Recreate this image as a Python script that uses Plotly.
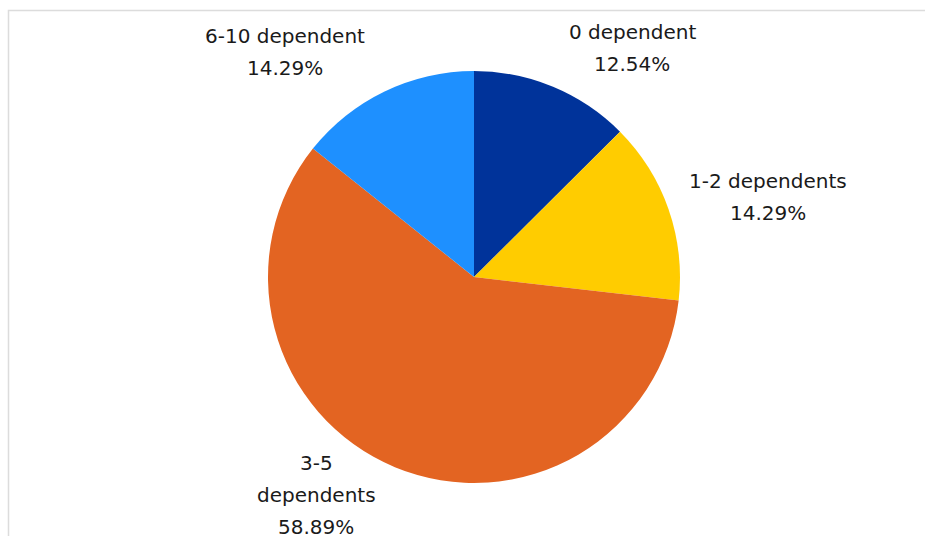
import plotly.graph_objects as go

W, H = 925, 536

# Data
categories = ["0 dependent", "1-2 dependents", "3-5 dependents", "6-10 dependent"]
shares = [12.54, 14.29, 58.89, 14.29]
colors = ["#00339A", "#FFCC00", "#E36422", "#1E90FF"]

# Label lines drawn outside the pie (one entry per category)
label_lines = [["0 dependent"], ["1-2 dependents"], ["3-5", "dependents"], ["6-10 dependent"]]
label_pos = [(632, 32), (768, 181), (316, 463), (285, 36)]
line_gap = 32

# Pie geometry in pixels
cx, cy, r = 474, 277, 206

fig = go.Figure(
    go.Pie(
        labels=categories,
        values=shares,
        marker=dict(colors=colors, line=dict(width=0)),
        sort=False,
        direction="clockwise",
        rotation=0,
        textinfo="none",
        hoverinfo="label+percent",
        showlegend=False,
        domain=dict(x=[(cx - r) / W, (cx + r) / W], y=[1 - (cy + r) / H, 1 - (cy - r) / H]),
    )
)

font = dict(family="DejaVu Sans, sans-serif", size=20, color="#1a1a1a")
annotations = []
for lines, val, (lx, ly) in zip(label_lines, shares, label_pos):
    for i, txt in enumerate(lines + [f"{val:.2f}%"]):
        annotations.append(
            dict(
                x=lx / W, y=1 - (ly + i * line_gap) / H,
                xref="paper", yref="paper",
                text=txt, showarrow=False,
                xanchor="center", yanchor="middle",
                font=font,
            )
        )

fig.update_layout(
    width=W, height=H,
    margin=dict(l=0, r=0, t=0, b=0),
    paper_bgcolor="white",
    plot_bgcolor="white",
    annotations=annotations,
    shapes=[
        dict(type="rect", xref="paper", yref="paper",
             x0=8.5 / W, x1=1.05, y0=-0.05, y1=1 - 10.5 / H,
             line=dict(color="#dcdcdc", width=1.5), layer="below"),
    ],
)

fig.write_html("out.html")
